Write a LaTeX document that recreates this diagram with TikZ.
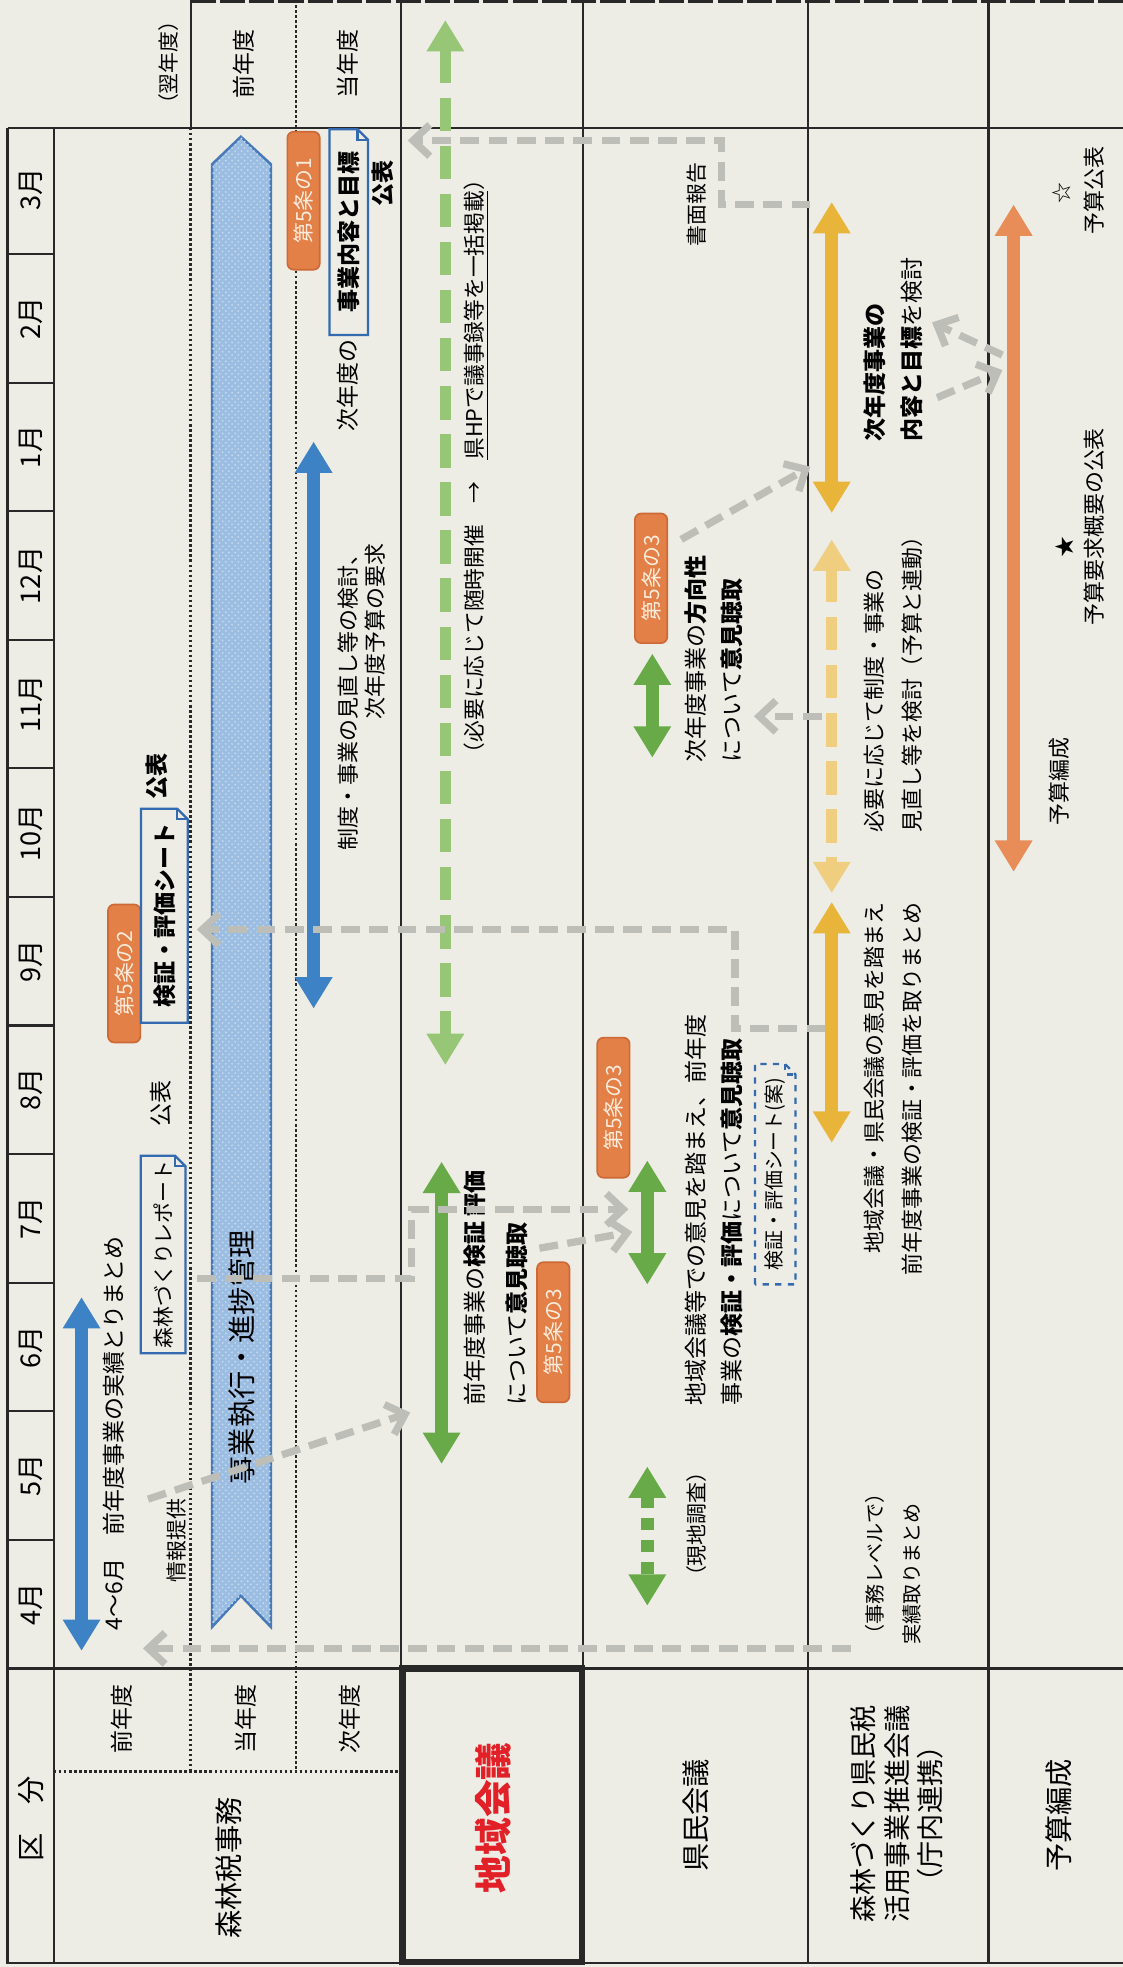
\documentclass[tikz,border=0pt]{standalone}
\usepackage{fontspec}
\setmainfont{Noto Sans CJK JP}
\usetikzlibrary{arrows.meta,calc,patterns}

\definecolor{paper}{RGB}{237,237,229}
\definecolor{rule}{RGB}{40,40,40}
\definecolor{taxblue}{RGB}{62,130,198}
\definecolor{ribbonfill}{RGB}{156,189,226}
\definecolor{ribbondot}{RGB}{196,216,238}
\definecolor{ribbonline}{RGB}{72,122,184}
\definecolor{docblue}{RGB}{52,106,176}
\definecolor{tagfill}{RGB}{226,128,72}
\definecolor{tagline}{RGB}{205,105,55}
\definecolor{tagtext}{RGB}{252,236,220}
\definecolor{meetgreen}{RGB}{104,170,72}
\definecolor{meetgreenlt}{RGB}{150,198,118}
\definecolor{promyellow}{RGB}{232,180,58}
\definecolor{promyellowlt}{RGB}{240,206,128}
\definecolor{budgetorange}{RGB}{232,140,88}
\definecolor{linkgray}{RGB}{190,190,184}
\definecolor{councilred}{RGB}{226,32,40}

\tikzset{
    tline/.style={
        draw=rule,
        line width=1pt
    },
    dotline/.style={
        draw=rule,
        line width=1.2pt,
        dash pattern=on 1.2pt off 1.2pt
    },
    twohead/.style={
        line width=6pt,
        {Triangle[width=17pt,length=15pt]}-{Triangle[width=17pt,length=15pt]}
    },
    conn/.style={
        draw=linkgray,
        line width=3.5pt,
        dash pattern=on 9pt off 4.5pt,
        -{Straight Barb[length=8pt,width=15pt]}
    },
    docframe/.style={
        draw=docblue,
        line width=1.1pt
    }
}

\begin{document}
\begin{tikzpicture}[
    x=0.6pt, y=-0.6pt,
    txt/.style={
        rotate=90,
        inner sep=0pt,
        font=\fontsize{11}{19}\selectfont
    },
    small/.style={
        font=\fontsize{10}{16}\selectfont
    },
    monthlbl/.style={
        rotate=90,
        inner sep=0pt,
        font=\fontsize{13}{13}\selectfont
    },
    head/.style={
        rotate=90,
        inner sep=0pt,
        align=center,
        font=\fontsize{13.5}{16}\selectfont
    },
    tagbox/.style={
        rotate=90,
        draw=tagline,
        fill=tagfill,
        text=tagtext,
        rounded corners=3pt,
        line width=0.8pt,
        inner sep=0pt,
        minimum height=15.5pt,
        minimum width=66pt,
        font=\fontsize{10}{10}\selectfont
    },
    docbox/.style={
        rotate=90,
        inner sep=0pt
    }
]

\fill[paper] (0,0) rectangle (895,1568);
\useasboundingbox (0,0) rectangle (895,1568);

\draw[tline] (6,102) -- (6,1565) -- (895,1565);
\draw[tline] (43,102) -- (43,1565);
\draw[tline] (6,102) -- (895,102);
\draw[tline] (6,1330) -- (895,1330);
\draw[tline] (152,0) -- (152,102);
\draw[dotline] (152,102) -- (152,1412);
\draw[dotline] (236,0) -- (236,1412);
\draw[dotline] (43,1412) -- (320,1412);
\draw[tline] (320,0) -- (320,1565);
\draw[tline] (465,0) -- (465,1565);
\draw[tline] (644,0) -- (644,1565);
\draw[tline] (788,0) -- (788,1565);
\draw[draw=rule, line width=2pt, dash pattern=on 12pt off 2pt] (152,1) -- (895,1);
\draw[draw=rule, line width=3.2pt] (321,1330) rectangle (464,1564);
\foreach \i in {1,...,11}
    \draw[tline] (6,{1330-102.5*\i}) -- (43,{1330-102.5*\i});

\foreach \m [count=\i from 0] in {4,5,6,7,8,9,10,11,12,1,2,3}
    \node[monthlbl] (mon\m) at (25,{1278.75-102.5*\i}) {\m 月};

\node[head] (kubun) at (25,1450) {区　分};
\node[txt] (rowprev) at (97,1370) {前年度};
\node[txt] (rowcur) at (196,1370) {当年度};
\node[txt] (rownext) at (279,1370) {次年度};
\node[head] (taxoffice) at (182,1489) {森林税事務};
\node[head, font=\fontsize{18}{18}\selectfont\bfseries, text=councilred] (regional) at (393,1449) {地域会議};
\node[head] (prefcouncil) at (555,1447) {県民会議};
\node[head, font=\fontsize{13}{16}\selectfont] (promotion) at (715,1446) {森林づくり県民税\\活用事業推進会議\\（庁内連携）};
\node[head] (budgeting) at (844,1447) {予算編成};

\node[txt, small] (nextyear) at (134,50) {（翌年度）};
\node[txt] (nyprev) at (194,51) {前年度};
\node[txt] (nycur) at (277,51) {当年度};

\draw[draw=ribbonline, line width=1.2pt, fill=ribbonfill,
      postaction={pattern=crosshatch dots, pattern color=ribbondot}]
    (169,131) -- (192,109) -- (216,131) -- (216,1297) -- (192,1272) -- (169,1297) -- cycle;
\node[txt, font=\fontsize{13.5}{16}\selectfont] (exec) at (193,1082) {事業執行・進捗管理};

\coordinate (sumtop) at (65,1034);
\coordinate (sumbot) at (65,1316);
\draw[twohead, draw=taxblue] (sumtop) -- (sumbot);
\node[txt, anchor=west] (matome) at (91,1300) {4〜6月　前年度事業の実績とりまとめ};
\node[docbox, small, minimum width=94pt, minimum height=21pt] (report) at (130,1000) {森林づくりレポート};
\node[txt] (pub1) at (128,880) {公表};
\node[tagbox] (art52) at (99,776) {第5条の2};
\node[docbox, font=\fontsize{11}{11}\selectfont\bfseries, minimum width=102pt, minimum height=22pt] (sheet) at (131,730) {検証・評価シート};
\node[txt, font=\fontsize{11}{11}\selectfont\bfseries] (pub2) at (125,619) {公表};
\node[txt, small] (info) at (141,1228) {情報提供};

\node[tagbox] (art51) at (242,160) {第5条の1};
\node[docbox, font=\fontsize{11}{11}\selectfont\bfseries, minimum width=98pt, minimum height=18pt] (plan) at (278,185) {事業内容と目標};
\node[txt] (plannext) at (277,307) {次年度の};
\node[txt, font=\fontsize{11}{11}\selectfont\bfseries] (pub3) at (305,146) {公表};
\coordinate (revtop) at (250,352);
\coordinate (revbot) at (250,804);
\draw[twohead, draw=taxblue] (revtop) -- (revbot);
\node[txt, font=\fontsize{10.5}{13}\selectfont, align=right, anchor=east] (review) at (288,433) {制度・事業の見直し等の検討、\\次年度予算の要求};

\coordinate (adhoctop) at (355,16);
\coordinate (adhocbot) at (355,849);
\draw[twohead, draw=meetgreenlt, line width=5.5pt, dash pattern=on 16pt off 7pt] (adhoctop) -- (adhocbot);
\node[txt, font=\fontsize{10.4}{12}\selectfont] (hp) at (380,372) {（必要に応じて随時開催　→　\underline{県HPで議事録等を一括掲載}）};
\coordinate (rhtop) at (352,926);
\coordinate (rhbot) at (352,1167);
\draw[twohead, draw=meetgreen] (rhtop) -- (rhbot);
\node[txt, align=left, anchor=west, font=\fontsize{11}{20}\selectfont] (rhtext) at (395,1121) {前年度事業の\textbf{検証} \textbf{評価}\\について\textbf{意見聴取}};
\node[tagbox, minimum width=67pt] (art53a) at (441,1062) {第5条の3};

\node[txt, small] (written) at (555,163) {書面報告};
\coordinate (surtop) at (516,1169);
\coordinate (surbot) at (516,1280);
\draw[twohead, draw=meetgreen, dash pattern=on 6pt off 4.5pt] (surtop) -- (surbot);
\node[txt, small] (survey) at (555,1215) {（現地調査）};
\coordinate (phtop) at (516,925);
\coordinate (phbot) at (516,1024);
\draw[twohead, draw=meetgreen] (phtop) -- (phbot);
\node[tagbox, minimum width=67pt] (art53b) at (489,883) {第5条の3};
\node[txt, align=left, anchor=west, font=\fontsize{11}{17}\selectfont] (phtext) at (569,1121) {地域会議等での意見を踏まえ、前年度\\事業の\textbf{検証・評価}について\textbf{意見聴取}};
\node[docbox, font=\fontsize{9.5}{9.5}\selectfont, minimum width=105pt, minimum height=19pt] (draft) at (618,936) {検証・評価シート(案)};
\node[tagbox, minimum width=62pt] (art53c) at (519,461) {第5条の3};
\coordinate (dirtop) at (520,521);
\coordinate (dirbot) at (520,604);
\draw[twohead, draw=meetgreen] (dirtop) -- (dirbot);
\node[txt, align=left, anchor=west, font=\fontsize{11}{17}\selectfont] (dirtext) at (569,608) {次年度事業の\textbf{方向性}\\について\textbf{意見聴取}};

\coordinate (ytop) at (663,161);
\coordinate (ymid1) at (663,409);
\coordinate (ymid2) at (663,430);
\coordinate (ymid3) at (663,712);
\coordinate (ymid4) at (663,719);
\coordinate (ybot) at (663,911);
\draw[twohead, draw=promyellow] (ytop) -- (ymid1);
\draw[twohead, draw=promyellowlt, line width=5.5pt, dash pattern=on 16pt off 7pt] (ymid2) -- (ymid3);
\draw[twohead, draw=promyellow] (ymid4) -- (ybot);
\node[txt, align=left, anchor=west, font=\fontsize{11}{18}\selectfont] (plantext) at (712,352) {\textbf{次年度事業の}\\\textbf{内容と目標}を検討};
\node[txt, align=left, anchor=west, font=\fontsize{10.5}{18}\selectfont] (revise) at (712,664) {必要に応じて制度・事業の\\見直し等を検討（予算と連動）};
\node[txt, align=right, anchor=east, font=\fontsize{10.5}{18}\selectfont] (summary) at (712,719) {地域会議・県民会議の意見を踏まえ\\前年度事業の検証・評価を取りまとめ};
\node[txt, align=left, anchor=west, font=\fontsize{9.6}{18}\selectfont] (jimu) at (712,1311) {（事務レベルで）\\実績取りまとめ};

\coordinate (otop) at (808,163);
\coordinate (obot) at (808,695);
\draw[twohead, draw=budgetorange] (otop) -- (obot);
\node[txt, small] (star1) at (846,154) {☆};
\node[txt, font=\fontsize{10.5}{12}\selectfont] (budgetpub) at (872,152) {予算公表};
\node[txt, small] (star2) at (849,436) {★};
\node[txt, font=\fontsize{10.5}{12}\selectfont] (reqpub) at (872,420) {予算要求概要の公表};
\node[txt, font=\fontsize{10.5}{12}\selectfont] (budgetwork) at (844,623) {予算編成};

\foreach \d in {report,sheet,plan}{
    \draw[docframe] (\d.north west) -- (\d.north east) -- ([xshift=-5pt]\d.south east)
        -- ([yshift=-5pt]\d.south east) -- (\d.south west) -- cycle;
    \draw[docframe] ([xshift=-5pt]\d.south east) -- ([xshift=-5pt,yshift=-5pt]\d.south east)
        -- ([yshift=-5pt]\d.south east);
}
\draw[docframe, dashed] (draft.north west) -- (draft.north east) -- ([xshift=-5pt]draft.south east)
    -- ([yshift=-5pt]draft.south east) -- (draft.south west) -- cycle;
\draw[docframe, dashed] ([xshift=-5pt]draft.south east) -- ([xshift=-5pt,yshift=-5pt]draft.south east)
    -- ([yshift=-5pt]draft.south east);

\coordinate (wrstart) at (646,163);
\coordinate (wrbend) at (575,112);
\coordinate (wrend) at (325,112);
\coordinate (evstart) at (658,820);
\coordinate (evbend) at (586,741);
\coordinate (evend) at (157,741);
\coordinate (resstart) at (678,1314);
\coordinate (resend) at (114,1314);
\coordinate (infostart) at (118,1195);
\coordinate (infoend) at (327,1126);
\coordinate (repstart) at (157,1019);
\coordinate (repbend) at (328,964);
\coordinate (repend) at (501,964);
\coordinate (rhstart) at (430,995);
\coordinate (rhend) at (504,982);
\coordinate (dirstart) at (543,430);
\coordinate (dirend) at (646,372);
\coordinate (revstart) at (655,571);
\coordinate (revend) at (601,571);
\coordinate (bupstart) at (799,283);
\coordinate (bupend) at (743,257);
\coordinate (bdnstart) at (747,317);
\coordinate (bdnend) at (799,295);

\draw[conn] (wrstart) -| (wrbend) -- (wrend);
\draw[conn] (evstart) -| (evbend) -- (evend);
\draw[conn] (resstart) -- (resend);
\draw[conn] (infostart) -- (infoend);
\draw[conn] (repstart) -| (repbend) -- (repend);
\draw[conn] (rhstart) -- (rhend);
\draw[conn] (dirstart) -- (dirend);
\draw[conn] (revstart) -- (revend);
\draw[conn] (bupstart) -- (bupend);
\draw[conn] (bdnstart) -- (bdnend);

\end{tikzpicture}
\end{document}
